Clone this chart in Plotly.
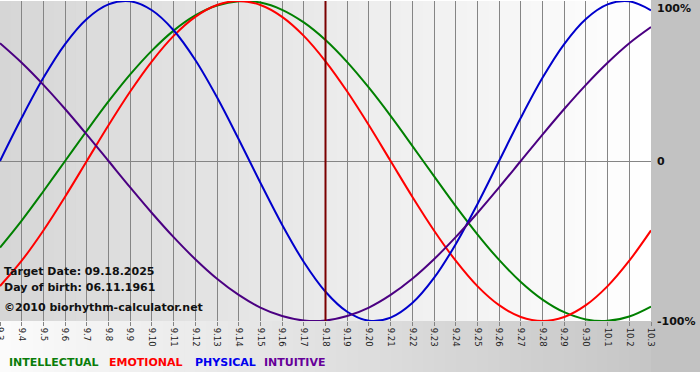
import plotly.graph_objects as go

# ---------------- data ----------------
dates = ["9.3", "9.4", "9.5", "9.6", "9.7", "9.8", "9.9", "9.10", "9.11", "9.12",
         "9.13", "9.14", "9.15", "9.16", "9.17", "9.18", "9.19", "9.20", "9.21",
         "9.22", "9.23", "9.24", "9.25", "9.26", "9.27", "9.28", "9.29", "9.30",
         "10.1", "10.2", "10.3"]

intellectual = [-54.1, -37.2, -18.9, 0, 18.9, 37.2, 54.1, 69.0, 81.5, 91.0, 97.2, 99.9,
                99.0, 94.5, 86.6, 75.6, 61.8, 45.8, 28.2, 9.5, -9.5, -28.2, -45.8, -61.8,
                -75.6, -86.6, -94.5, -99.0, -99.9, -97.2, -91.0]
emotional = [-78.2, -62.3, -43.4, -22.3, 0, 22.3, 43.4, 62.3, 78.2, 90.1, 97.5, 100,
             97.5, 90.1, 78.2, 62.3, 43.4, 22.3, 0, -22.3, -43.4, -62.3, -78.2, -90.1,
             -97.5, -100, -97.5, -90.1, -78.2, -62.3, -43.4]
physical = [0, 27.0, 52.0, 73.1, 88.8, 97.9, 99.8, 94.2, 81.7, 63.1, 39.8, 13.6, -13.6,
            -39.8, -63.1, -81.7, -94.2, -99.8, -97.9, -88.8, -73.1, -52.0, -27.0, 0,
            27.0, 52.0, 73.1, 88.8, 97.9, 99.8, 94.2]
intuitive = [73.6, 61.4, 47.6, 32.5, 16.5, 0, -16.5, -32.5, -47.6, -61.4, -73.6, -83.7,
             -91.6, -96.9, -99.7, -99.7, -96.9, -91.6, -83.7, -73.6, -61.4, -47.6, -32.5,
             -16.5, 0, 16.5, 32.5, 47.6, 61.4, 73.6, 83.7]

series_names = ["INTELLECTUAL", "EMOTIONAL", "PHYSICAL", "INTUITIVE"]
y_ticks = [100, 0, -100]
y_tick_labels = ["100%", "0", "-100%"]
target_label = "9.18"
info_lines = ["Target Date: 09.18.2025", "Day of birth: 06.11.1961",
              "\u00a92010 biorhythm-calculator.net"]

# ---------------- styling ----------------
W, H = 700, 380
ML, MR, MT, MB = 0, 49, 1, 59
PW, PH = W - ML - MR, H - MT - MB
line_colors = ["#008000", "#ff0000", "#0000cc", "#4b0082"]
legend_colors = ["#0a7d0a", "#ff0000", "#0000ee", "#660099"]
x_pos = list(range(len(dates)))
target_idx = dates.index(target_label)
ylab_font = dict(family="DejaVu Sans", size=11, color="#111111", weight="bold")


def px_x(px):
    return (px - ML) / PW


def px_y(py):
    return (MT + PH - py) / PH


def mix(c1, c2, t):
    a = [int(c1[i:i + 2], 16) for i in (1, 3, 5)]
    b = [int(c2[i:i + 2], 16) for i in (1, 3, 5)]
    return "#%02x%02x%02x" % tuple(round(a[k] + (b[k] - a[k]) * t) for k in range(3))


shapes = []
N = 60
# plot area gradient
for i in range(N):
    shapes.append(dict(type="rect", xref="paper", yref="paper", layer="below",
                       x0=i / N, x1=(i + 1) / N + 0.002, y0=0, y1=1,
                       fillcolor=mix("#d6d6d6", "#ffffff", (i + 0.5) / N),
                       line=dict(width=0)))
# bottom strip gradient
for i in range(N):
    shapes.append(dict(type="rect", xref="paper", yref="paper", layer="below",
                       x0=px_x(PW * i / N), x1=px_x(PW * (i + 1) / N) + 0.002,
                       y0=px_y(372), y1=0,
                       fillcolor=mix("#fbfbfb", "#c6c6c6", (i + 0.5) / N),
                       line=dict(width=0)))
# right strip
shapes.append(dict(type="rect", xref="paper", yref="paper", layer="below",
                   x0=1, x1=px_x(W + 2), y0=px_y(372), y1=px_y(-2),
                   fillcolor="#c2c2c2", line=dict(width=0)))
# target date line
shapes.append(dict(type="line", xref="x", yref="paper", layer="above",
                   x0=target_idx, x1=target_idx, y0=0, y1=1,
                   line=dict(color="#7a0000", width=2)))

fig = go.Figure()
for name, vals, col in zip(series_names, [intellectual, emotional, physical, intuitive],
                           line_colors):
    fig.add_trace(go.Scatter(x=x_pos, y=vals, mode="lines", name=name,
                             line=dict(color=col, width=2, shape="spline", smoothing=1.0),
                             showlegend=False, hoverinfo="skip"))

annotations = []
info_y = [271, 287, 307]
info_size = [11, 11, 11]
for txt, yy, fs in zip(info_lines, info_y, info_size):
    annotations.append(dict(text=txt, xref="paper", yref="paper", x=px_x(2), y=px_y(yy),
                            xanchor="left", yanchor="middle", showarrow=False,
                            font=dict(family="DejaVu Sans", size=fs, color="#111111",
                                      weight="bold")))
legend_x = [7, 107, 193, 262]
for name, col, lx in zip(series_names, legend_colors, legend_x):
    annotations.append(dict(text=name, xref="paper", yref="paper", x=px_x(lx), y=px_y(362),
                            xanchor="left", yanchor="middle", showarrow=False,
                            font=dict(family="DejaVu Sans", size=11, color=col,
                                      weight="bold")))
# first date label sits on the left edge (partially cut, as in the original)
annotations.append(dict(text=dates[0], xref="x", yref="paper", x=x_pos[0], y=px_y(326),
                        xanchor="center", yanchor="top", textangle=90, showarrow=False,
                        borderpad=0,
                        font=dict(family="DejaVu Sans", size=8.5, color="#222222")))
# top axis label, kept inside the picture
annotations.append(dict(text=y_tick_labels[0], xref="paper", yref="y", x=px_x(656),
                        y=y_ticks[0], xanchor="left", yanchor="top", showarrow=False,
                        borderpad=0, font=ylab_font))

fig.update_layout(
    width=W, height=H,
    margin=dict(l=ML, r=MR, t=MT, b=MB, pad=0, autoexpand=False),
    paper_bgcolor="#ffffff", plot_bgcolor="rgba(0,0,0,0)",
    shapes=shapes, annotations=annotations,
    xaxis=dict(range=[0, len(dates) - 1], tickangle=90, automargin=False,
               tickvals=x_pos, ticktext=dates,
               showgrid=True, gridcolor="#858585", gridwidth=1,
               ticks="outside", ticklen=4, tickcolor="#858585",
               tickfont=dict(family="DejaVu Sans", size=8.5, color="#222222"),
               zeroline=False, fixedrange=True),
    yaxis=dict(range=[-100, 100], side="right", tickvals=y_ticks,
               ticktext=[""] + y_tick_labels[1:],
               automargin=False,
               showgrid=True, gridcolor="#858585", gridwidth=1, zeroline=False,
               ticks="", ticklabelstandoff=5,
               tickfont=ylab_font,
               fixedrange=True),
    showlegend=False,
)

fig.write_html("out.html", config={"displayModeBar": False},
               post_script="document.body.style.margin='0px';"
                           "document.body.style.padding='0px';"
                           "document.body.style.overflow='hidden';")
